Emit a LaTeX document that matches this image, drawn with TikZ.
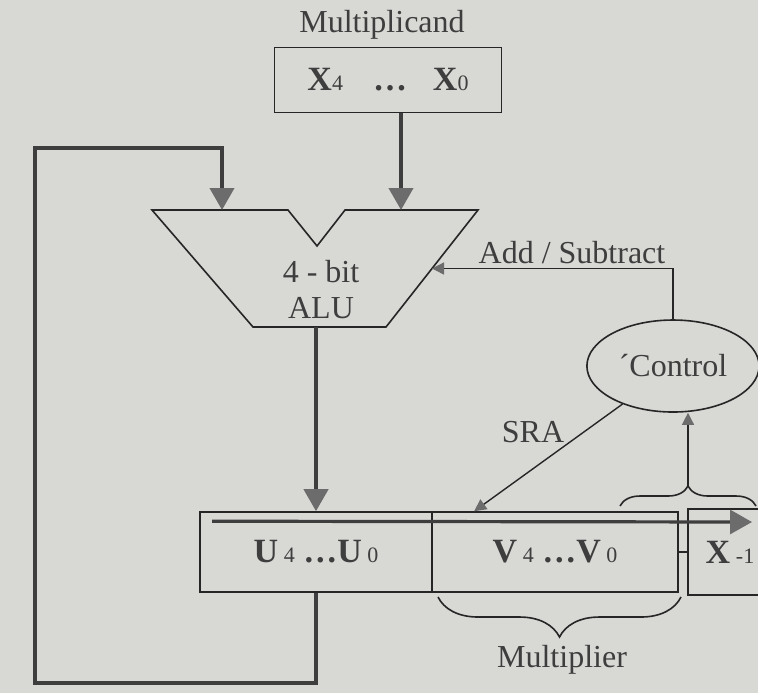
\documentclass[tikz,border=0pt]{standalone}
\usepackage{fontspec}
\setmainfont{Liberation Serif}
\usetikzlibrary{shapes.geometric,arrows.meta,decorations.pathreplacing,calc}
\definecolor{paper}{RGB}{216,216,213}
\definecolor{ink}{RGB}{62,62,62}
\definecolor{tipgray}{RGB}{108,108,108}
\newcommand{\idx}[1]{{\fontsize{11}{12}\selectfont\mdseries #1}}
\tikzset{
  lbl/.style={font=\fontsize{16}{18}\selectfont, text=ink},
  regbox/.style={draw=black!85, line width=0.8pt, lbl, font=\fontsize{17}{19}\selectfont\bfseries},
  bus/.style={ink, line width=2pt, -{Triangle[width=12pt,length=11pt,color=tipgray]}},
  ctl/.style={black!85, line width=0.7pt, -{Triangle[width=6pt,length=6pt,color=tipgray]}},
  brc/.style={black!85, line width=0.8pt, decorate}
}
\begin{document}
\begin{tikzpicture}[x=0.5pt,y=-0.5pt]
    \fill[paper] (0,0) rectangle (758,693);
    \useasboundingbox (0,0) rectangle (758,693);
    % ── multiplicand ──────────────────────────
    \node[lbl] (mclbl) at (382,25) {Multiplicand};
    \node[regbox, minimum width=113.5pt, minimum height=32.5pt] (mcand) at (388,80)
        {X\idx{4}\hspace{15pt}\dots\hspace{13pt}X\idx{0}};
    % ── ALU ───────────────────────────────────
    \coordinate (alutl) at (152,210);
    \coordinate (notchl) at (288,210);
    \coordinate (notchb) at (317,246);
    \coordinate (notchr) at (345,210);
    \coordinate (alutr) at (478,210);
    \coordinate (alubr) at (386,327);
    \coordinate (alubl) at (253,327);
    \coordinate (aluina) at (222,210);
    \coordinate (aluinb) at (401,210);
    \coordinate (aluinr) at ($(alutr)!0.5!(alubr)$);
    \draw[black!85, line width=0.8pt] (alutl) -- (notchl) -- (notchb) -- (notchr) -- (alutr)
        -- (alubr) -- (alubl) -- cycle;
    \node[lbl, align=center] (alu) at (321,290) {4 - bit\\ALU};
    % ── control ───────────────────────────────
    \node[ellipse, draw=black!85, line width=0.8pt, minimum width=79pt, minimum height=46pt, lbl]
        (ctrl) at (673,366) {\textasciiacute Control};
    \node[lbl] (addsub) at (572,253) {Add / Subtract};
    \node[lbl] (sra) at (533,432) {SRA};
    % ── registers ─────────────────────────────
    \node[regbox, minimum width=116pt, minimum height=40pt] (ureg) at (316,552)
        {U\,\idx{4}\ \dots U\,\idx{0}};
    \node[regbox, minimum width=123pt, minimum height=40pt] (vreg) at (555,552)
        {V\,\idx{4}\ \dots V\,\idx{0}};
    \node[regbox, minimum width=42pt, minimum height=43pt] (xreg) at (730,552)
        {X\,\idx{-1}};
    \draw[black!85, line width=0.8pt] (vreg.east) -- (xreg.west);
    \node[lbl] (mplr) at (562,660) {Multiplier};
    % ── data paths ────────────────────────────
    \coordinate (fbl) at (35,683);
    \coordinate (fbt) at (35,148);
    \draw[bus] (aluinb |- mcand.south) -- (aluinb);
    \draw[bus] (ureg.south) |- (fbl) -- (fbt) -| (aluina);
    \draw[bus] (ureg.north |- alubl) -- (ureg.north);
    \coordinate (shl) at ($(ureg.north west)+(13,10)$);
    \coordinate (shr) at (752,522);
    \draw[bus, line width=1.6pt] (shl) -- (shr);
    % ── control lines ─────────────────────────
    \coordinate (srain) at ($(vreg.north west)+(43,0)$);
    \draw[ctl] (ctrl.north) |- (aluinr);
    \draw[ctl] (ctrl.217) -- (srain);
    \draw[brc, decoration={brace, amplitude=10pt}] (620,506) -- (756,506);
    \coordinate (btip) at (688,486);
    \draw[ctl] (btip) -- (btip |- ctrl.south);
    \draw[brc, decoration={brace, amplitude=20pt}] (681,597) -- (438,597);
\end{tikzpicture}
\end{document}
